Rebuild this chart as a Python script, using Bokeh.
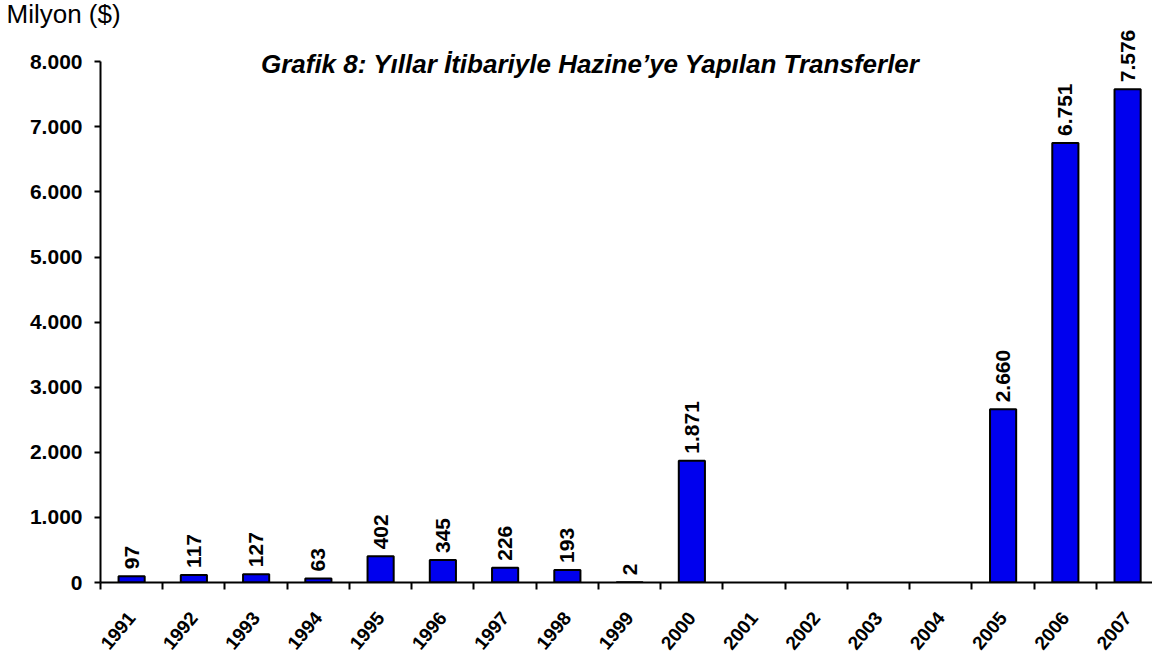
import math
from bokeh.plotting import figure
from bokeh.models import ColumnDataSource, FixedTicker, Label, Range1d, Title
from bokeh.core.properties import value
from bokeh.embed import file_html
from bokeh.resources import INLINE

years = [1991, 1992, 1993, 1994, 1995, 1996, 1997, 1998, 1999, 2000,
         2001, 2002, 2003, 2004, 2005, 2006, 2007]
transfers = [97, 117, 127, 63, 402, 345, 226, 193, 2, 1871,
             None, None, None, None, 2660, 6751, 7576]
y_ticks = [0, 1000, 2000, 3000, 4000, 5000, 6000, 7000, 8000]
title_text = "Grafik 8: Yıllar İtibariyle Hazine’ye Yapılan Transferler"
unit_text = "Milyon ($)"

def tr_fmt(v):
    return f"{int(v):,}".replace(",", ".")

bx = [y for y, v in zip(years, transfers) if v is not None]
bv = [v for v in transfers if v is not None]
src = ColumnDataSource(dict(x=bx, top=bv, label=[tr_fmt(v) for v in bv]))

FONT = "Liberation Sans"

p = figure(width=1152, height=658, output_backend="svg", toolbar_location=None,
           x_range=Range1d(1990.5, 2007.4), y_range=Range1d(0, 8510),
           min_border_left=100, min_border_right=0, min_border_top=0,
           min_border_bottom=76)
p.outline_line_color = None
p.xgrid.grid_line_color = None
p.ygrid.grid_line_color = None
p.background_fill_color = "white"
p.border_fill_color = "white"

p.title = Title(text=unit_text, align="left", offset=-94, standoff=-4,
                vertical_align="top", text_font=FONT, text_font_style="normal",
                text_font_size="26px", text_color="black")

p.vbar(x="x", top="top", width=0.42, bottom=0, source=src,
       fill_color="#0000ee", line_color="black", line_width=2)

p.text(x="x", y="top", text="label", source=src, angle=math.pi / 2,
       text_align="left", text_baseline="middle", y_offset=-7,
       text_font=value(FONT), text_font_style="bold", text_font_size="21px",
       text_color="black")

# y axis
ya = p.yaxis[0]
ya.ticker = FixedTicker(ticks=y_ticks)
ya.major_label_overrides = {t: tr_fmt(t) for t in y_ticks}
ya.bounds = (0, 8000)
ya.axis_line_color = "black"
ya.axis_line_width = 2
ya.major_tick_line_color = "black"
ya.major_tick_line_width = 2
ya.major_tick_out = 6
ya.major_tick_in = 0
ya.minor_tick_line_color = None
ya.major_label_standoff = 12
ya.major_label_text_font = FONT
ya.major_label_text_font_style = "bold"
ya.major_label_text_font_size = "21px"
ya.major_label_text_color = "black"

# x axis
xa = p.xaxis[0]
xa.ticker = FixedTicker(ticks=years, minor_ticks=[y - 0.5 for y in years])
xa.major_label_overrides = {y: str(y) for y in years}
xa.axis_line_color = "black"
xa.axis_line_width = 2
xa.major_tick_line_color = None
xa.major_tick_out = 0
xa.major_tick_in = 0
xa.minor_tick_line_color = "black"
xa.minor_tick_line_width = 2
xa.minor_tick_out = 7
xa.minor_tick_in = 0
xa.major_label_orientation = math.radians(50)
xa.major_label_standoff = 25
xa.major_label_text_font = FONT
xa.major_label_text_font_style = "bold"
xa.major_label_text_font_size = "19px"
xa.major_label_text_color = "black"

p.add_layout(Label(x=1998.37, y=8000, y_offset=-2, text=title_text,
                   text_align="center", text_baseline="middle",
                   text_font=FONT, text_font_style="bold italic",
                   text_font_size="26px", text_color="black"))

open("out.html", "w").write(file_html(p, INLINE))
